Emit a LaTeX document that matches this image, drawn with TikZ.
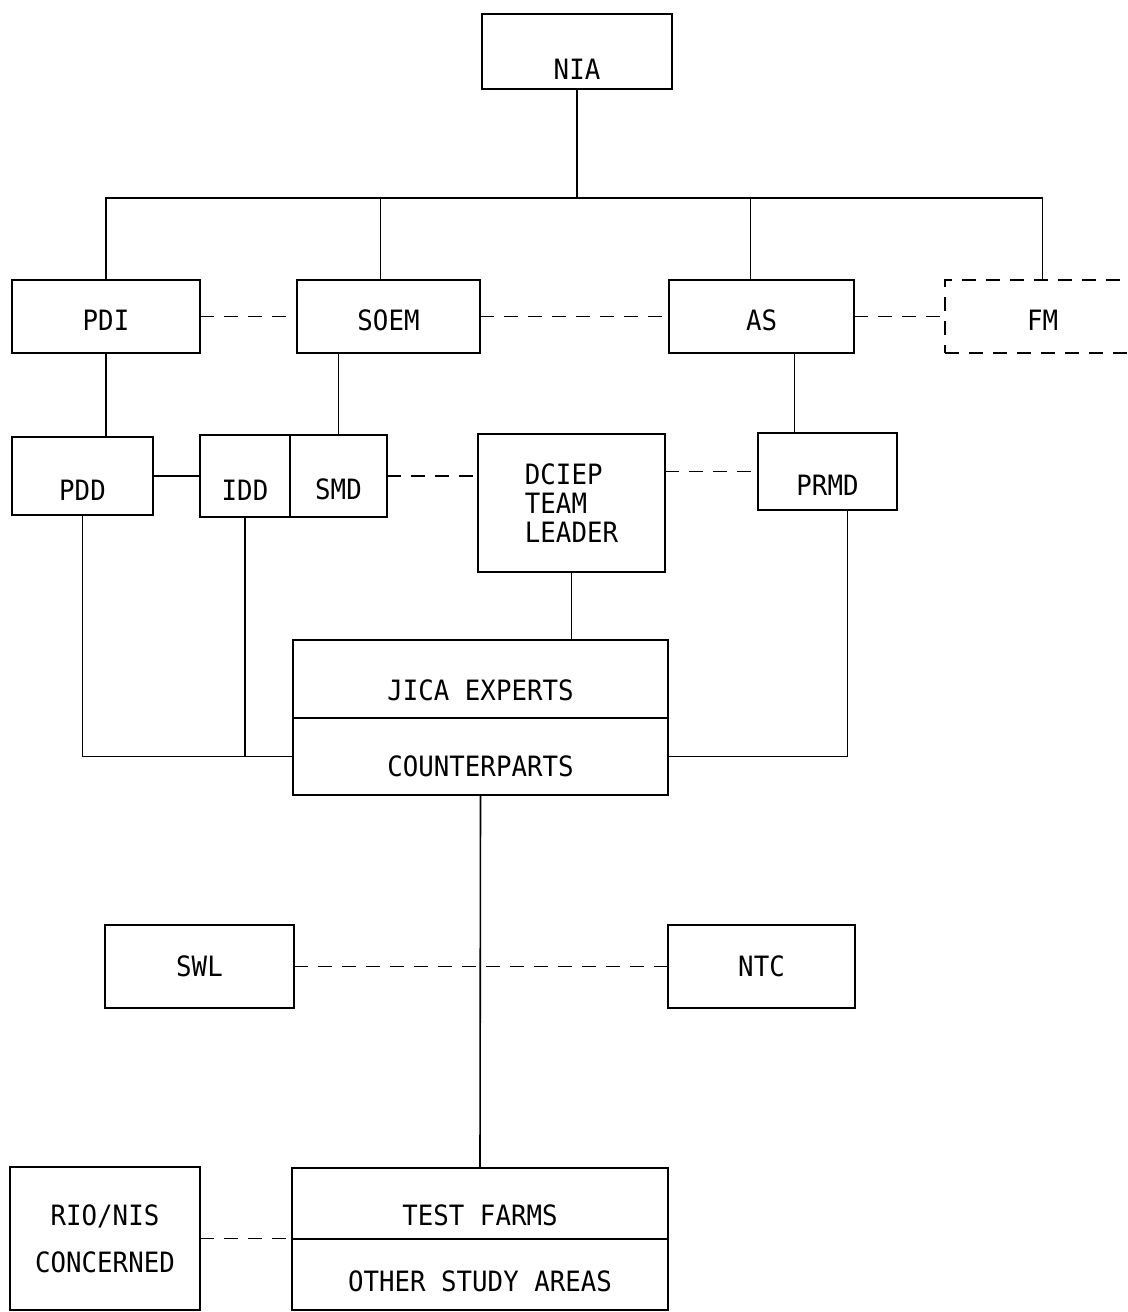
\documentclass[tikz,border=0pt]{standalone}
\usepackage{fontspec}
\setmonofont{DejaVu Sans Mono}[FakeStretch=0.92]
\usetikzlibrary{positioning,calc}

\begin{document}
\begin{tikzpicture}[x=0.5pt,y=-0.5pt,
      font=\ttfamily\fontsize{14}{14.5}\selectfont,
      line width=0.8pt,
      box/.style={draw,inner sep=0pt,outer sep=0pt},
      dbox/.style={box,dash pattern=on 7pt off 5pt},
      link/.style={dash pattern=on 7pt off 5pt}]
    \clip (0,0) rectangle (1128,1312);
    \node[box,minimum width=95pt,minimum height=37.5pt,text height=27.7pt] (nia) at (577,51.5) {NIA};
    \node[box,minimum width=94pt,minimum height=36.5pt,text height=13.7pt] (pdi) at (106,316.5) {PDI};
    \node[box,minimum width=91.5pt,minimum height=36.5pt,text height=13.7pt] (soem) at (388.5,316.5) {SOEM};
    \node[box,minimum width=92.5pt,minimum height=36.5pt,text height=13.7pt] (as) at (761.5,316.5) {AS};
    \node[dbox,minimum width=97.5pt,minimum height=36.5pt,text height=13.7pt] (fm) at (1042.5,316.5) {FM};
    \node[box,minimum width=70.5pt,minimum height=39pt,text height=24pt] (pdd) at (82.5,476) {PDD};
    \node[box,minimum width=45pt,minimum height=41pt,text height=24pt] (idd) at (245,476) {IDD};
    \node[box,minimum width=48.5pt,minimum height=41pt,text height=24pt,right=0pt of idd] (smd) {SMD};
    \node[box,minimum width=93.5pt,minimum height=69pt,align=left] (dciep) at (571.5,503) {DCIEP\\TEAM\\LEADER};
    \node[box,minimum width=69.5pt,minimum height=38.5pt,text height=23.7pt] (prmd) at (827.5,471.5) {PRMD};
    \node[box,minimum width=187.5pt,minimum height=39pt,text height=21.2pt] (jica) at (480.5,679) {JICA EXPERTS};
    \node[box,minimum width=187.5pt,minimum height=38.5pt,text height=20.2pt,below=0pt of jica] (cp) {COUNTERPARTS};
    \node[box,minimum width=94.5pt,minimum height=41.5pt] (swl) at (199.5,966.5) {SWL};
    \node[box,minimum width=93.5pt,minimum height=41.5pt] (ntc) at (761.5,966.5) {NTC};
    \node[box,minimum width=188pt,minimum height=35.5pt,text height=21.7pt] (farms) at (480,1203.5) {TEST FARMS};
    \node[box,minimum width=188pt,minimum height=35.5pt,text height=16.7pt,below=0pt of farms] (other) {OTHER STUDY AREAS};
    \node[box,minimum width=95pt,minimum height=71.5pt,align=center] (rio) at (105,1238.5) {RIO/NIS\\[9pt]CONCERNED};
    % top level
    \coordinate (bus) at (579,198);
    \draw (nia.south) -- (nia.south |- bus);
    \draw (pdi.north) |- (bus) -| (fm.north);
    \draw ([xshift=-4pt]soem.north) -- ([xshift=-4pt]soem.north |- bus);
    \draw ([xshift=-5.5pt]as.north) -- ([xshift=-5.5pt]as.north |- bus);
    \draw[link] (pdi) -- (soem);
    \draw[link] (soem) -- (as);
    \draw[link] (as) -- (fm);
    % divisions
    \draw (pdi.south) -- (pdi.south |- pdd.north);
    \draw (smd.north) -- (smd.north |- soem.south);
    \coordinate (asdrop) at ($(as.south)!.5!(prmd.north)$);
    \draw (as.south -| asdrop) -- (prmd.north -| asdrop);
    \draw (pdd) -- (idd);
    \draw[link] (smd.east) -- (smd.east -| dciep.west);
    \draw[link] (prmd.west -| dciep.east) -- (prmd.west);
    % to the experts
    \draw (dciep.south) -- (dciep.south |- jica.north);
    \draw (pdd.south) |- (cp.west);
    \draw (idd.south) -- (idd.south |- cp.west);
    \draw ([xshift=10pt]prmd.south) |- (cp.east);
    \draw (cp.south) -- (farms.north);
    \draw[link] (swl) -- (ntc);
    \draw[link] (rio.east) -- (rio.east -| farms.west);
  \end{tikzpicture}
\end{document}
